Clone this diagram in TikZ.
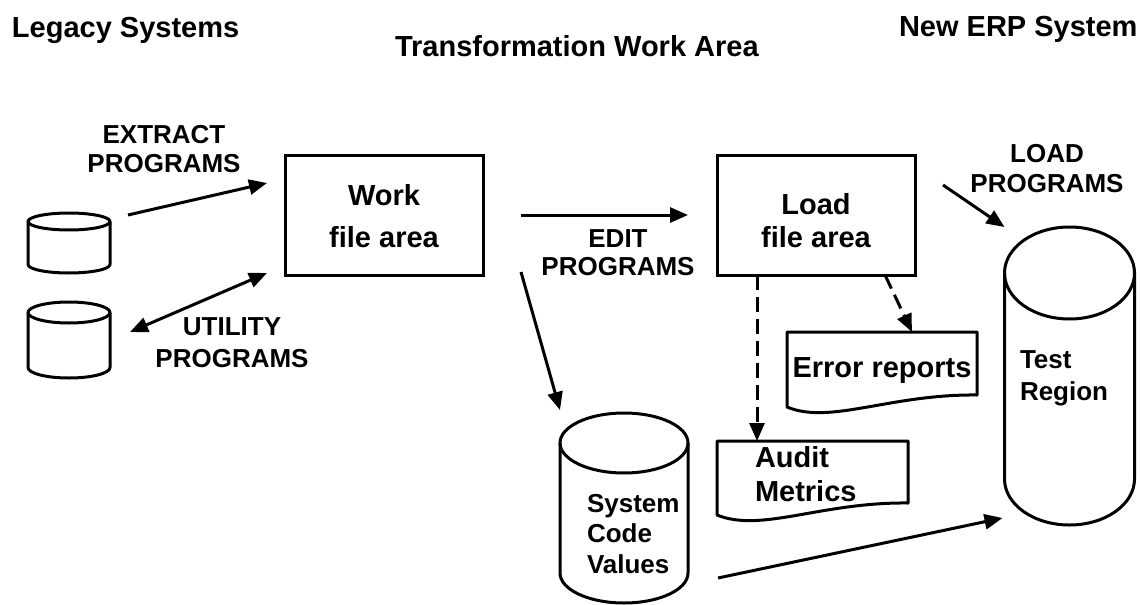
\documentclass[tikz,border=0pt]{standalone}
\usepackage{fontspec}
\setmainfont{Liberation Sans}
\usetikzlibrary{arrows.meta,calc}
\newcommand\drawcylinder[3]{%
  \draw[shapeline,fill=white] ([yshift=-#3pt]#1.north west) -- ([yshift=#3pt]#1.south west)
    arc[start angle=180,end angle=360,x radius=#2pt,y radius=#3pt] -- ([yshift=-#3pt]#1.north east);
  \draw[shapeline] ([yshift=-#3pt]#1.north) ellipse[x radius=#2pt,y radius=#3pt];
}
\tikzset{
  shapeline/.style={line width=3pt,line join=round},
  holder/.style={inner sep=0pt,outer sep=0pt,draw=none},
  boxnode/.style={draw,line width=3pt,inner sep=0pt,outer sep=0pt,minimum width=198pt,minimum height=120pt},
  txt/.style={inner sep=0pt,outer sep=0pt,font=\bfseries},
  big/.style={font=\fontsize{29}{33}\selectfont\bfseries},
  small/.style={font=\fontsize{26}{30}\selectfont\bfseries},
  conn/.style={line width=3pt,-{Triangle[length=18pt,width=15pt]}},
  dconn/.style={conn,dash pattern=on 15pt off 7pt},
}
\begin{document}
\begin{tikzpicture}[x=1pt,y=-1pt]
\useasboundingbox (0,0) rectangle (1141,605);
\fill[white] (0,0) rectangle (1141,605);

% headers
\node[txt,big,anchor=base west] (hleg) at (12,37) {Legacy Systems};
\node[txt,big,anchor=base west] (htra) at (395,56) {Transformation Work Area};
\node[txt,big,anchor=base west] (herp) at (899,36) {New ERP System};

% boxes
\node[boxnode] (work) at (384,215) {};
\node[boxnode] (load) at (816,215) {};
\node[txt,anchor=base,align=center,font=\fontsize{29}{42}\selectfont\bfseries] (worktext) at (384,247) {Work\\file area};
\node[txt,anchor=base,align=center,font=\fontsize{29}{33}\selectfont\bfseries] (loadtext) at (816,247) {Load\\file area};

% cylinders
\node[holder,minimum width=82pt,minimum height=60pt] (cyla) at (69,243) {};
\node[holder,minimum width=82pt,minimum height=76pt] (cylb) at (69,340) {};
\node[holder,minimum width=128pt,minimum height=190pt] (sys) at (624,508) {};
\node[holder,minimum width=130pt,minimum height=298pt] (test) at (1069.5,376) {};
\drawcylinder{cyla}{41}{8.5}
\drawcylinder{cylb}{41}{10.5}
\drawcylinder{sys}{64}{30}
\drawcylinder{test}{65}{46}
\node[txt,anchor=base west,align=left,font=\fontsize{26}{30.5}\selectfont\bfseries] (systext) at (587,573) {System\\Code\\Values};
\node[txt,anchor=base west,align=left,font=\fontsize{26}{32}\selectfont\bfseries] (testtext) at (1020,400) {Test\\Region};

% documents
\node[holder,minimum width=190pt,minimum height=63pt] (err) at (882,363.5) {};
\draw[shapeline,fill=white] (err.north west) -- (err.north east) -- (err.south east)
  .. controls ($(err.south east)+(-87,-1)$) and ($(err.south east)+(-147,30)$) .. ($(err.south west)+(0,12)$) -- cycle;
\node[txt,big,anchor=base] (errtext) at (882,377) {Error reports};

\node[holder,minimum width=191pt,minimum height=62pt] (aud) at (812.5,472) {};
\draw[shapeline,fill=white] (aud.north west) -- (aud.north east) -- (aud.south east)
  .. controls ($(aud.south east)+(-87,-1)$) and ($(aud.south east)+(-147,30)$) .. ($(aud.south west)+(0,12)$) -- cycle;
\node[txt,anchor=base west,align=left,font=\fontsize{29}{34}\selectfont\bfseries] (audtext) at (755,501) {Audit\\Metrics};

% program labels
\node[txt,anchor=base,align=center,font=\fontsize{26}{29}\selectfont\bfseries] (lext) at (164,172) {EXTRACT\\PROGRAMS};
\node[txt,anchor=base,align=center,font=\fontsize{26}{32}\selectfont\bfseries] (lutil) at (232,367) {UTILITY\\PROGRAMS};
\node[txt,anchor=base,align=center,font=\fontsize{26}{28}\selectfont\bfseries] (ledit) at (618,275) {EDIT\\PROGRAMS};
\node[txt,anchor=base,align=center,font=\fontsize{26}{30}\selectfont\bfseries] (lload) at (1047,192) {LOAD\\PROGRAMS};

% connectors
\draw[conn] ($(cyla.north east)+(18,2)$) -- ($(work.west)+(-18,-32)$);
\draw[conn,{Triangle[length=18pt,width=15pt]}-{Triangle[length=18pt,width=15pt]}] ($(cylb.east)+(20,-8)$) -- ($(work.south west)+(-18,-2)$);
\draw[conn] ($(work.east)+(38,0)$) -- ($(load.west)+(-29,0)$);
\draw[conn] ($(work.south east)+(38,-3)$) -- ($(sys.north west)+(0,-3)$);
\draw[dconn] ($(load.south west)+(40,0)$) -- ($(aud.north west)+(40,0)$);
\draw[dconn] ($(load.south east)+(-30,0)$) -- ($(err.north east)+(-65,0)$);
\draw[conn] ($(load.north east)+(28,30)$) -- ($(test.north west)+(0,0)$);
\draw[conn] ($(sys.south east)+(30,-25)$) -- ($(test.south west)+(-2,-7)$);
\end{tikzpicture}
\end{document}
